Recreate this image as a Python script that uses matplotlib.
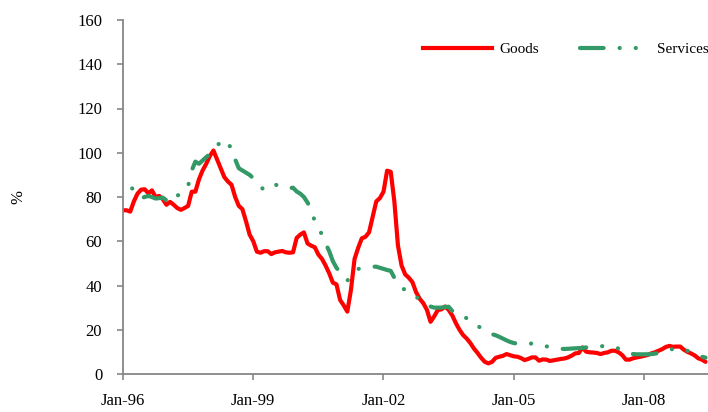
import numpy as np
import matplotlib.pyplot as plt
from matplotlib.lines import Line2D

plt.rcParams['font.family'] = ['Liberation Serif', 'DejaVu Serif']
plt.rcParams['lines.scale_dashes'] = False

# x axis: months since Jan-96
tick_pos = [0, 36, 72, 108, 144]
tick_labels = ['Jan-96', 'Jan-99', 'Jan-02', 'Jan-05', 'Jan-08']
y_ticks = [0, 20, 40, 60, 80, 100, 120, 140, 160]

# monthly values, Jan-96 .. Jun-09
goods = [
    74, 74, 73.4, 78, 81.5, 83.3, 83.5, 81.7, 83, 80, 80.5, 79,            # 1996
    76.5, 77.8, 76.5, 75, 74.2, 75, 76, 82.4, 82.4, 88, 92, 95,             # 1997
    98.5, 101, 97, 93, 89, 87, 85.5, 80, 76, 74.5, 69, 63,                  # 1998
    60, 55.3, 54.8, 55.5, 55.5, 54.2, 55, 55.3, 55.6, 55, 54.8, 55,         # 1999
    61.5, 63, 64, 59, 58, 57.3, 54, 52, 49, 45.5, 41.3, 40.5,               # 2000
    33.5, 31, 28.2, 38, 52, 57, 61.3, 62, 64, 71, 78, 79.5,                 # 2001
    82.4, 91.9, 91.4, 78, 58, 49, 45, 43.5, 41.5, 37, 34, 32,               # 2002
    29, 23.6, 26, 28.9, 29.2, 30.5, 29, 26.5, 23, 20, 17.6, 16,             # 2003
    14, 11.5, 9.5, 7.3, 5.5, 4.8, 5.5, 7.3, 7.8, 8.2, 9, 8.5,               # 2004
    8, 7.8, 7.2, 6.3, 6.8, 7.5, 7.5, 6, 6.6, 6.5, 5.9, 6.2,                 # 2005
    6.5, 6.8, 7, 7.5, 8.3, 9.3, 9.5, 12, 10.1, 9.8, 9.7, 9.5,               # 2006
    9, 9.5, 9.8, 10.5, 10.5, 9.8, 8.5, 6.5, 6.5, 7.1, 7.5, 7.8,             # 2007
    8.2, 8.6, 9.3, 9.8, 10.5, 11.2, 12.2, 12.7, 12.3, 12.4, 12.4, 11,       # 2008
    10, 9.3, 8.4, 7.1, 6.5, 5.5,                                            # 2009
]
services = [
    85.5, 85, 84.3, 83.5, 81.5, 79.5, 80, 80.5, 80, 79.3, 79.5, 79.7,
    78.5, 77.4, 79, 80.6, 81.5, 82.5, 85, 92, 96, 95, 96.5, 98,
    99.4, 101.5, 103.5, 104.5, 102, 103.5, 102.5, 97, 93, 92, 91, 90,
    88.5, 86.5, 84.7, 83.2, 83.5, 84.5, 85.7, 85, 84.2, 84, 84, 84.2,
    82.5, 81.5, 80, 77.5, 74.5, 69, 66, 63, 59, 55.5, 51, 48,
    46, 44, 42.2, 44, 46.5, 47.5, 47.7, 48, 48.3, 48.5, 48.5, 48,
    47.5, 47, 46.6, 43.5, 40.8, 39, 38, 37.5, 36.5, 35, 33.5, 32.5,
    31.5, 30.5, 30, 30, 30, 30.3, 30.4, 28.5, 27, 26.5, 26, 25.2,
    24.5, 23.5, 22, 20.5, 19.5, 18.8, 18, 17.5, 16.8, 16, 15.2, 14.5,
    14, 13.7, 13.4, 13.5, 13.6, 13.8, 13.7, 13.2, 12.9, 12.5, 12.2, 12,
    11.7, 11.4, 11.3, 11.4, 11.5, 11.6, 11.7, 11.8, 12, 12.1, 12.3, 12.5,
    12.4, 12.8, 12.5, 12.3, 12, 11.5, 10.8, 10, 9.5, 9, 8.9, 8.9,
    8.9, 8.9, 9, 9.2, 9.5, 10, 10.5, 11, 11.3, 11.6, 11.5, 11,
    10.5, 9.8, 9, 8.3, 7.8, 7.4,
]
months = np.arange(len(goods))

red = '#FF0000'
green = '#339966'
axis_grey = '#868686'
svc_dash = [17, 11.5, 0.1, 11.5, 0.1, 11.5]

fig = plt.figure(figsize=(7.08, 4.12), dpi=100)
ax = fig.add_axes([123 / 708, 38 / 412, 585 / 708, 354 / 412])

ax.plot(months, goods, color=red, lw=3, solid_joinstyle='round',
        solid_capstyle='round')
ax.plot(months, services, color=green, lw=3, linestyle=(33, svc_dash),
        dash_capstyle='round', dash_joinstyle='round')

ax.set_xlim(0, 585 / 3.618)
ax.set_ylim(0, 160)
ax.set_xticks(tick_pos)
ax.set_xticklabels(tick_labels)
ax.set_yticks(y_ticks)

for side in ['top', 'right']:
    ax.spines[side].set_visible(False)
for side in ['left', 'bottom']:
    ax.spines[side].set_color(axis_grey)
    ax.spines[side].set_linewidth(1.3)
ax.tick_params(axis='both', colors=axis_grey, labelcolor='black',
               labelsize=12, length=4, width=1.2)
ax.tick_params(axis='y', pad=11)
ax.tick_params(axis='x', pad=9.5)

fig.text(18 / 708, 1 - 197 / 412, '%', rotation=90, ha='center',
         va='center', fontsize=12)

# legend with proxy handles so the services key starts on a dash
handles = [
    Line2D([], [], color=red, lw=3),
    Line2D([], [], color=green, lw=3, linestyle=(0, svc_dash),
           dash_capstyle='round'),
]
ax.legend(handles, ['Goods', 'Services'], ncol=2, frameon=False,
          loc='center left', bbox_to_anchor=(423 / 708, 1 - 49 / 412),
          bbox_transform=fig.transFigure, borderpad=0, borderaxespad=0,
          handlelength=4.5, handletextpad=0.5, columnspacing=2.7,
          fontsize=11)

fig.savefig('out.png', dpi=100)
